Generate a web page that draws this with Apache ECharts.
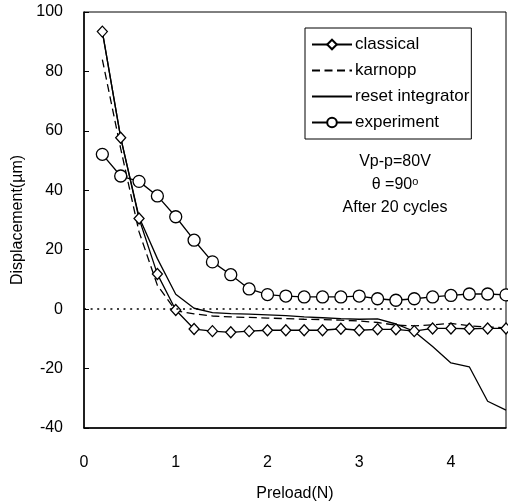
<!DOCTYPE html>
<html>
<head>
<meta charset="utf-8">
<script src="https://cdn.jsdelivr.net/npm/echarts@6/dist/echarts.min.js"></script>
<style>html,body{margin:0;padding:0;background:#fff}#c{width:508px;height:504px}</style>
</head>
<body>
<div id="c"></div>
<script>
var preload = [0.2,0.4,0.6,0.8,1.0,1.2,1.4,1.6,1.8,2.0,2.2,2.4,2.6,2.8,3.0,3.2,3.4,3.6,3.8,4.0,4.2,4.4,4.6];
var classical = [93.4,57.7,30.5,11.8,-0.3,-6.7,-7.4,-7.8,-7.4,-7.1,-7.1,-7.1,-7.1,-6.6,-7.1,-6.8,-6.8,-7.4,-6.5,-6.5,-6.6,-6.5,-6.5];
var karnopp = [84,54,26,8,-0.5,-1.6,-2.3,-2.6,-2.8,-3.0,-3.2,-3.4,-3.5,-3.7,-4.0,-4.5,-5.4,-5.6,-5.3,-4.8,-5.6,-6.0,-6.3];
var resetIntegrator = [93.4,57.7,31,17,5,0.3,-1.2,-1.5,-1.7,-1.9,-2.2,-2.6,-2.9,-3.2,-3.4,-3.3,-5.0,-7.5,-12.6,-18.1,-19.4,-31,-34];
var experiment = [52.1,44.8,43.0,38.1,31.1,23.2,15.9,11.6,6.8,4.9,4.4,4.1,4.1,4.1,4.4,3.5,3.0,3.5,4.1,4.6,5.1,5.1,4.8];
var xTicks = [0,1,2,3,4];
var yTicks = [-40,-20,0,20,40,60,80,100];
var legendNames = ['classical','karnopp','reset integrator','experiment'];
var noteLines = ['Vp-p=80V','θ =90','After 20 cycles'];

function pairs(ys){ return preload.map(function(x,i){ return [x, ys[i]]; }); }
var F = 'Liberation Sans, Arial, Helvetica, sans-serif';
var chart = echarts.init(document.getElementById('c'), null, {renderer:'canvas'});
var lineBase = {color:'#000', width:1.3};
var noSym = {color:'transparent', borderColor:'transparent', borderWidth:0};
chart.setOption({
  animation:false,
  backgroundColor:'#fff',
  grid:{left:84, right:2, top:12, bottom:76, show:true, borderColor:'#000', borderWidth:1,
    containLabel:false, outerBoundsMode:'none'},
  xAxis:{type:'value', min:xTicks[0], max:4.6, interval:1,
    name:'Preload(N)', nameLocation:'middle', nameGap:58,
    nameTextStyle:{fontFamily:F, fontSize:16, color:'#000'},
    axisLine:{show:true, onZero:false, lineStyle:{color:'#000', width:1.5}},
    axisTick:{show:false},
    axisLabel:{margin:27, fontFamily:F, fontSize:16, color:'#000',
      formatter:function(v){ return xTicks.indexOf(v)>=0 ? String(v) : ''; }},
    splitLine:{show:false}},
  yAxis:{type:'value', min:yTicks[0], max:yTicks[yTicks.length-1], interval:20,
    name:'Displacement(\u00b5m)', nameLocation:'middle', nameGap:52,
    nameTextStyle:{fontFamily:F, fontSize:16, color:'#000'},
    axisLine:{show:true, lineStyle:{color:'#000', width:1.5}},
    axisTick:{show:true, inside:true, length:5, lineStyle:{color:'#000', width:1}},
    axisLabel:{margin:21, fontFamily:F, fontSize:16, color:'#000'},
    splitLine:{show:false}},
  legend:{orient:'vertical', left:305, top:28, width:170,
    data:[
      {name:legendNames[0]},
      {name:legendNames[1], itemStyle:noSym},
      {name:legendNames[2], itemStyle:noSym},
      {name:legendNames[3]}
    ],
    backgroundColor:'#fff', borderColor:'#000', borderWidth:1,
    padding:[8,2,8,6], itemWidth:40, itemHeight:12, itemGap:9,
    textStyle:{fontFamily:F, fontSize:17, color:'#000', padding:[0,0,0,-2]}},
  graphic:[
    {type:'text', style:{text:noteLines[0], x:395, y:162, align:'center', verticalAlign:'middle', font:'16px '+F, fill:'#000'}},
    {type:'text', style:{rich:{a:{fontSize:16, fontFamily:F, color:'#000'}, s:{fontSize:11, fontFamily:F, color:'#000', verticalAlign:'top', lineHeight:18}},
      text:'{a|'+noteLines[1]+'}{s|o}', x:395, y:185, align:'center', verticalAlign:'middle'}},
    {type:'text', style:{text:noteLines[2], x:395, y:208, align:'center', verticalAlign:'middle', font:'16px '+F, fill:'#000'}}
  ],
  series:[
    {name:'reset integrator', type:'line', data:pairs(resetIntegrator), symbol:'none',
      lineStyle:lineBase, itemStyle:{color:'#000'}, z:2,
      markLine:{silent:true, symbol:'none', label:{show:false},
        lineStyle:{color:'#000', type:[2,4.6], width:1.6}, data:[{yAxis:0}]}},
    {name:'karnopp', type:'line', data:pairs(karnopp), symbol:'none',
      lineStyle:{color:'#000', width:1.3, type:[8,4.5]}, itemStyle:{color:'#000'}, z:2},
    {name:'classical', type:'line', data:pairs(classical), symbol:'diamond', symbolSize:[10,11],
      lineStyle:lineBase, itemStyle:{color:'#fff', borderColor:'#000', borderWidth:1.3}, z:3},
    {name:'experiment', type:'line', data:pairs(experiment), symbol:'circle', symbolSize:12,
      lineStyle:lineBase, itemStyle:{color:'#fff', borderColor:'#000', borderWidth:1.3}, z:4}
  ]
});
</script>
</body>
</html>
